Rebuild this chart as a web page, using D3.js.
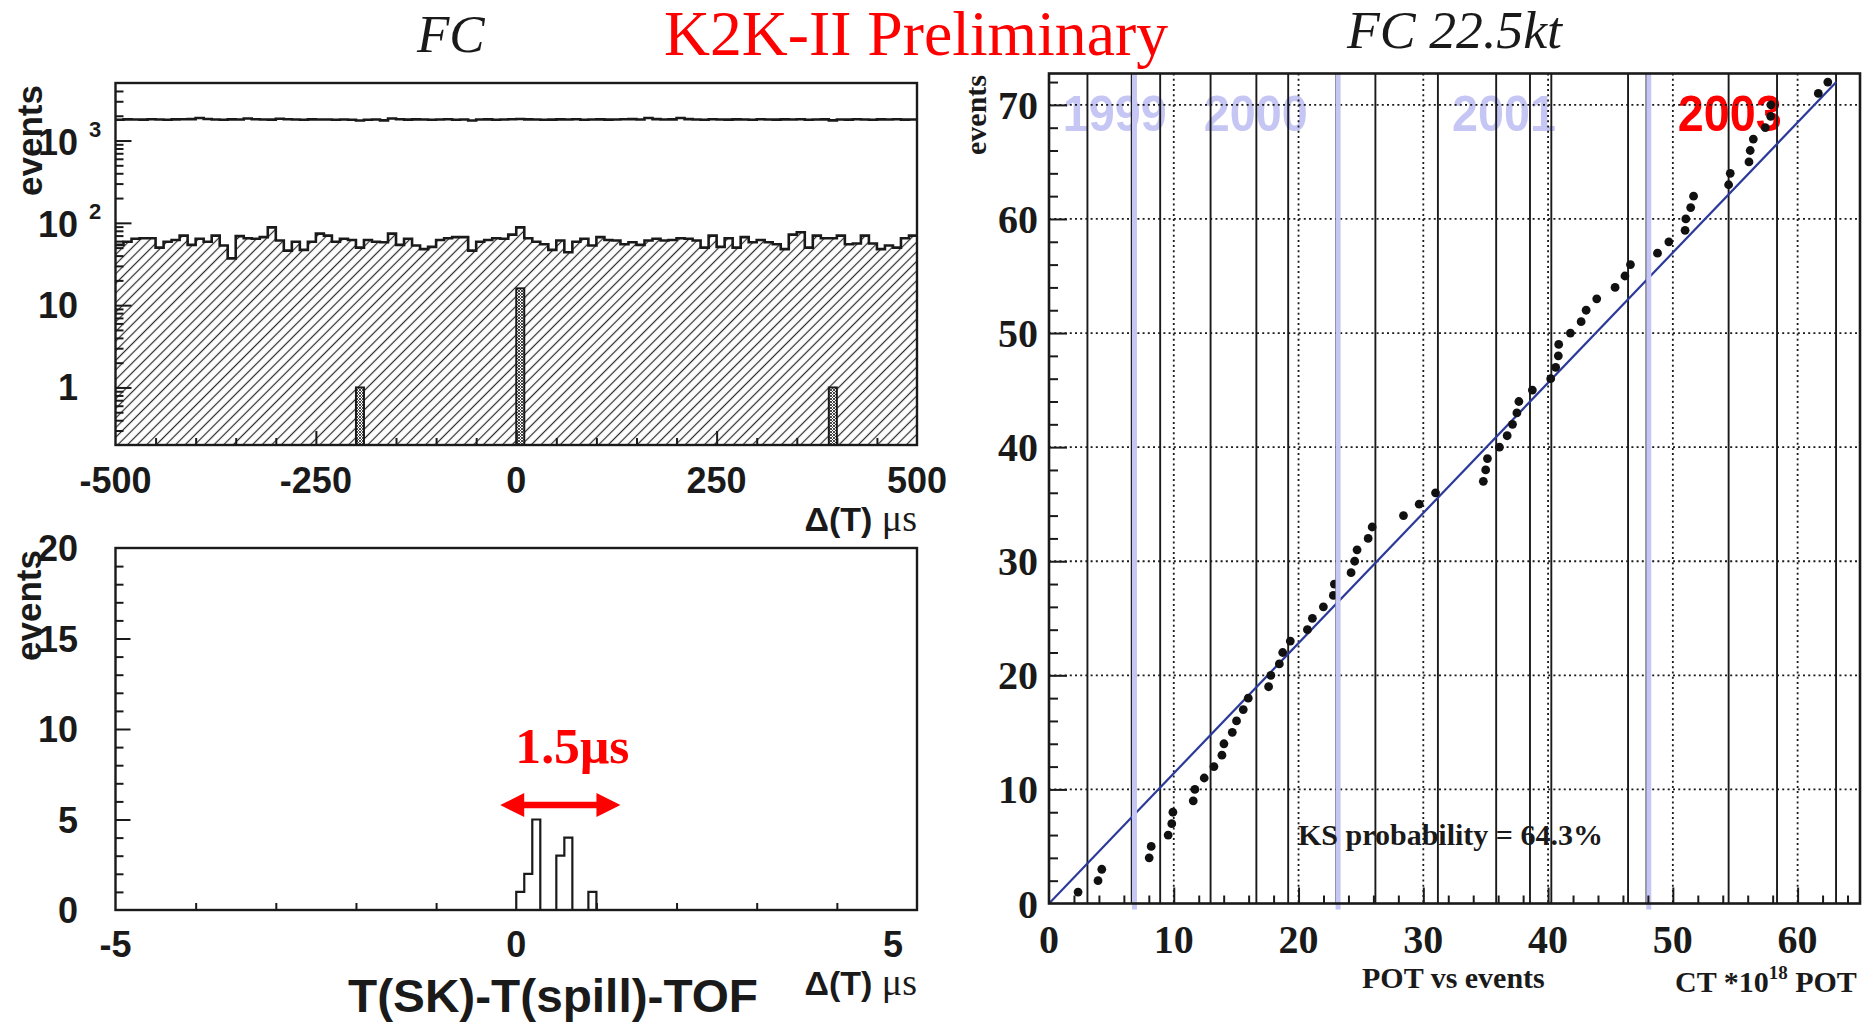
<!DOCTYPE html>
<html>
<head>
<meta charset="utf-8">
<script src="https://cdn.jsdelivr.net/npm/d3@7"></script>
<style>
  html, body { margin: 0; padding: 0; background: #fff; }
  svg { display: block; }
</style>
</head>
<body>
<svg id="fig" width="1869" height="1023"></svg>
<script>
// ---------------- data ----------------
// Wide timing window: 100 bins of 10 us from -500 to +500 us
const totalCounts = [
  1790,1805,1800,1795,1810,1800,1790,1805,1812,1820,
  1880,1830,1800,1790,1805,1800,1850,1815,1800,1795,
  1840,1810,1800,1790,1805,1798,1802,1790,1800,1785,
  1750,1790,1800,1760,1850,1810,1795,1805,1800,1792,
  1800,1810,1790,1800,1755,1800,1805,1790,1800,1810,
  1830,1805,1800,1790,1795,1805,1800,1810,1790,1800,
  1805,1795,1800,1810,1820,1800,1880,1820,1800,1805,
  1880,1820,1800,1790,1810,1800,1795,1805,1800,1790,
  1810,1800,1795,1805,1800,1810,1790,1800,1805,1760,
  1800,1795,1810,1800,1790,1805,1800,1810,1795,1800
];
const hatchedCounts = [
  54,59,64,65,65,50,59,62,70,54,
  64,59,70,53,37,69,65,64,67,88,
  61,46,59,47,59,74,70,59,64,62,
  50,62,59,58,74,54,64,53,48,51,
  62,65,67,67,46,59,62,65,64,72,
  88,65,59,55,47,61,44,59,64,53,
  67,62,61,55,58,54,61,64,61,62,
  65,64,61,50,70,51,65,50,67,58,
  62,58,55,48,72,77,50,70,65,65,
  70,55,56,70,56,48,53,50,65,70
];
// FC events in the wide window (lower bin edge, count)
const fcBinStarts = [-200, 0, 390];
const fcCounts = [1, 16, 1];

// Narrow window: 0.1 us bins with entries
const fineBinStarts = [0.0, 0.1, 0.2, 0.3, 0.4, 0.5, 0.6, 0.7, 0.8, 0.9];
const fineCounts    = [1,   2,   5,   0,   0,   3,   4,   0,   0,   1];
const spreadStart = -0.2;
const spreadWidth = 1.5;    // us
const spreadLevel = 5.8;    // events

// Accumulated POT (10^18) at each FC event, events 1..72
const eventPOT = [
  2.33, 3.93, 4.23, 8.03, 8.19, 9.55, 9.84, 9.93, 11.56, 11.69,
  12.44, 13.22, 13.86, 14.02, 14.69, 15.03, 15.57, 15.97, 17.60, 17.78,
  18.46, 18.73, 19.34, 20.71, 21.11, 21.99, 22.79, 22.87, 24.21, 24.50,
  24.69, 25.58, 25.90, 28.41, 29.67, 30.98, 34.81, 35.00, 35.14, 36.10,
  36.72, 37.15, 37.50, 37.66, 38.74, 40.21, 40.61, 40.82, 40.85, 41.79,
  42.65, 43.05, 43.90, 45.37, 46.16, 46.60, 48.77, 49.68, 50.98, 51.04,
  51.43, 51.66, 54.47, 54.60, 56.10, 56.20, 56.45, 57.41, 57.84, 57.86,
  61.66, 62.42
];
const runBoundaries = [3.08, 6.63, 8.91, 12.95, 16.62, 19.17, 23.03, 26.16, 31.17,
                       35.84, 38.55, 40.26, 46.41, 47.89, 54.47, 58.35, 63.08];
const yearBoundaries = [6.85, 23.17, 48.07];
const yearNames = ["1999", "2000", "2001", "2003"];
const totalPOT = 63.1;
const totalEvents = 72;
const ksProbability = 64.3;

// tick label values
const wideXLabels = [-500, -250, 0, 250, 500];
const wideYLabels = [1, 10, 100, 1000];
const narrowXLabels = [-5, 0, 5];
const narrowYLabels = [0, 5, 10, 15, 20];
const potXLabels = [0, 10, 20, 30, 40, 50, 60];
const potYLabels = [0, 10, 20, 30, 40, 50, 60, 70];

// ---------------- styling ----------------
const SANS = "'Liberation Sans', Arial, Helvetica, sans-serif";
const SERIF = "'Liberation Serif', 'Times New Roman', Times, serif";
const INK = "#1a1a1a";
const RED = "#ff0000";
const LAVENDER = "#c6c6f4";

const svg = d3.select("#fig");
const defs = svg.append("defs");

// single diagonal hatch
const hatch = defs.append("pattern").attr("id", "diag")
  .attr("patternUnits", "userSpaceOnUse").attr("width", 6.8).attr("height", 10)
  .attr("patternTransform", "rotate(45)");
hatch.append("line").attr("x1", 3.4).attr("y1", 0).attr("x2", 3.4).attr("y2", 10)
  .attr("stroke", "#2a2a2a").attr("stroke-width", 1.2);

// fine cross hatch for the FC bars
const cross = defs.append("pattern").attr("id", "cross")
  .attr("patternUnits", "userSpaceOnUse").attr("width", 3).attr("height", 3);
cross.append("rect").attr("width", 3).attr("height", 3).attr("fill", "#fff");
cross.append("path").attr("d", "M0,0L3,3M3,0L0,3")
  .attr("stroke", "#333").attr("stroke-width", 0.9);

function clip(id, x0, y0, x1, y1) {
  defs.append("clipPath").attr("id", id).append("rect")
    .attr("x", x0).attr("y", y0).attr("width", x1 - x0).attr("height", y1 - y0);
}

function tickMarks(parent, axisFn, scale, values, size, transform, width) {
  const g = parent.append("g").attr("transform", transform)
    .call(axisFn(scale).tickValues(values).tickSize(size).tickFormat(""));
  g.select(".domain").remove();
  g.selectAll(".tick line").attr("stroke", INK).attr("stroke-width", width || 2);
  g.selectAll(".tick text").remove();
  return g;
}

function text(parent, str, x, y, opts) {
  const t = parent.append("text").attr("x", x).attr("y", y).text(str)
    .attr("font-family", opts.family || SANS)
    .attr("font-size", opts.size)
    .attr("font-weight", opts.weight || "normal")
    .attr("font-style", opts.style || "normal")
    .attr("fill", opts.fill || INK)
    .attr("text-anchor", opts.anchor || "start");
  if (opts.length) t.attr("textLength", opts.length).attr("lengthAdjust", "spacingAndGlyphs");
  return t;
}

// ---------------- titles ----------------
text(svg, "FC", 417, 52, { family: SERIF, size: 53, style: "italic" });
text(svg, "K2K-II Preliminary", 664, 55, { family: SERIF, size: 63, fill: RED, length: 504 });
text(svg, "FC 22.5kt", 1347, 48, { family: SERIF, size: 53, style: "italic", length: 215 });

// ================= wide window (log) =================
const A = { x0: 115.5, x1: 917, y0: 83, y1: 445 };
const xA = d3.scaleLinear().domain([-500, 500]).range([A.x0, A.x1]);
const yA = d3.scaleLog().domain([0.2, 5000]).range([A.y1, A.y0]);
clip("clipA", A.x0, A.y0, A.x1, A.y1);
const gA = svg.append("g");
const plotA = gA.append("g").attr("clip-path", "url(#clipA)");

const edgesA = d3.range(0, 101).map(i => -500 + 10 * i);
const stepPts = counts => counts.map((c, i) => [edgesA[i], c]).concat([[500, counts[counts.length - 1]]]);

const areaA = d3.area().curve(d3.curveStepAfter)
  .x(d => xA(d[0])).y0(A.y1).y1(d => yA(d[1]));
const lineA = d3.line().curve(d3.curveStepAfter)
  .x(d => xA(d[0])).y(d => yA(d[1]));

plotA.append("path").datum(stepPts(hatchedCounts)).attr("d", areaA).attr("fill", "url(#diag)");
plotA.append("path").datum(stepPts(hatchedCounts)).attr("d", lineA)
  .attr("fill", "none").attr("stroke", INK).attr("stroke-width", 2.6);
plotA.append("path").datum(stepPts(totalCounts)).attr("d", lineA)
  .attr("fill", "none").attr("stroke", INK).attr("stroke-width", 2.6);

plotA.selectAll("rect.fc").data(fcBinStarts.map((s, i) => ({ s, n: fcCounts[i] })))
  .join("rect").attr("class", "fc")
  .attr("x", d => xA(d.s)).attr("width", d => xA(d.s + 10) - xA(d.s))
  .attr("y", d => yA(d.n)).attr("height", d => A.y1 - yA(d.n))
  .attr("fill", "url(#cross)").attr("stroke", INK).attr("stroke-width", 2);

// ticks
const minorLog = [];
[0.1, 1, 10, 100, 1000].forEach(dec => {
  for (let k = 2; k <= 9; k++) { const v = k * dec; if (v > 0.2 && v < 5000) minorLog.push(v); }
});
tickMarks(gA, d3.axisLeft, yA, wideYLabels, -16, `translate(${A.x0},0)`);
tickMarks(gA, d3.axisLeft, yA, minorLog, -8, `translate(${A.x0},0)`);
tickMarks(gA, d3.axisBottom, xA, [-250, 0, 250], -14, `translate(0,${A.y1})`);
tickMarks(gA, d3.axisBottom, xA, d3.range(-450, 500, 50).filter(v => v % 250 !== 0), -7, `translate(0,${A.y1})`);

gA.append("rect").attr("x", A.x0).attr("y", A.y0).attr("width", A.x1 - A.x0).attr("height", A.y1 - A.y0)
  .attr("fill", "none").attr("stroke", INK).attr("stroke-width", 2.4);

// labels
wideXLabels.forEach(v => text(gA, String(v), xA(v), 493, { size: 36, weight: "bold", anchor: "middle" }));
wideYLabels.forEach(v => {
  const e = Math.round(Math.log10(v));
  const yy = yA(v);
  if (e <= 1) {
    text(gA, String(v), 78, yy + 13, { size: 36, weight: "bold", anchor: "end" });
  } else {
    text(gA, "10", 78, yy + 14, { size: 36, weight: "bold", anchor: "end" });
    text(gA, String(e), 89, yy - 4, { size: 22, weight: "bold" });
  }
});
text(gA, "events", 0, 0, { size: 35, weight: "bold", anchor: "end" })
  .attr("transform", "translate(42,85) rotate(-90)");
const dtA = gA.append("text").attr("x", 917).attr("y", 531).attr("text-anchor", "end").attr("fill", INK);
dtA.append("tspan").text("Δ(T) ").attr("font-family", SANS).attr("font-weight", "bold").attr("font-size", 34);
dtA.append("tspan").text("μs").attr("font-family", SERIF).attr("font-size", 38);

// ================= narrow window =================
const B = { x0: 115.5, x1: 917, y0: 548, y1: 910 };
const xB = d3.scaleLinear().domain([-5, 5]).range([B.x0, B.x1]);
const yB = d3.scaleLinear().domain([0, 20]).range([B.y1, B.y0]);
clip("clipB", B.x0, B.y0, B.x1, B.y1);
const gB = svg.append("g");

const fineCountsAll = d3.range(100).map(i => {
  const lo = -5 + i * 0.1;
  const j = fineBinStarts.findIndex(s => Math.abs(s - lo) < 1e-6);
  return j >= 0 ? fineCounts[j] : 0;
});
const fineStep = fineCountsAll.map((c, i) => [-5 + i * 0.1, c]).concat([[5, 0]]);
gB.append("g").attr("clip-path", "url(#clipB)").append("path").datum(fineStep)
  .attr("d", d3.line().curve(d3.curveStepAfter).x(d => xB(d[0])).y(d => yB(d[1])))
  .attr("fill", "none").attr("stroke", INK).attr("stroke-width", 2.2);

tickMarks(gB, d3.axisLeft, yB, [5, 10, 15], -15, `translate(${B.x0},0)`);
tickMarks(gB, d3.axisLeft, yB, d3.range(1, 20).filter(v => v % 5 !== 0), -8, `translate(${B.x0},0)`);
tickMarks(gB, d3.axisBottom, xB, d3.range(-4, 5).filter(v => v !== 0), -7, `translate(0,${B.y1})`);

gB.append("rect").attr("x", B.x0).attr("y", B.y0).attr("width", B.x1 - B.x0).attr("height", B.y1 - B.y0)
  .attr("fill", "none").attr("stroke", INK).attr("stroke-width", 2.4);

// the last label is pulled inside the frame edge
narrowXLabels.forEach((v, i) => {
  const last = i === narrowXLabels.length - 1;
  text(gB, String(v), last ? xB(v) - 24 : xB(v), 957, { size: 36, weight: "bold", anchor: "middle" });
});
narrowYLabels.forEach(v => text(gB, String(v), 78, yB(v) + 13, { size: 36, weight: "bold", anchor: "end" }));
text(gB, "events", 0, 0, { size: 35, weight: "bold", anchor: "end" })
  .attr("transform", "translate(41,550) rotate(-90)");
const dtB = gB.append("text").attr("x", 917).attr("y", 995).attr("text-anchor", "end").attr("fill", INK);
dtB.append("tspan").text("Δ(T) ").attr("font-family", SANS).attr("font-weight", "bold").attr("font-size", 34);
dtB.append("tspan").text("μs").attr("font-family", SERIF).attr("font-size", 38);
text(gB, "T(SK)-T(spill)-TOF", 348, 1012, { size: 47, weight: "bold", length: 410 });

// spread arrow and its label
const ax0 = xB(spreadStart), ax1 = xB(spreadStart + spreadWidth), ay = yB(spreadLevel);
const head = 24, half = 12, shaft = 3.2;
gB.append("path").attr("fill", RED).attr("d",
  `M${ax0},${ay} L${ax0 + head},${ay - half} L${ax0 + head},${ay - shaft} L${ax1 - head},${ay - shaft}` +
  ` L${ax1 - head},${ay - half} L${ax1},${ay} L${ax1 - head},${ay + half} L${ax1 - head},${ay + shaft}` +
  ` L${ax0 + head},${ay + shaft} L${ax0 + head},${ay + half} Z`);
text(gB, `${spreadWidth}μs`, xB(spreadStart + spreadWidth / 2) + 12, 763,
  { family: SERIF, size: 50, weight: "bold", fill: RED, anchor: "middle", length: 114 });

// ================= POT vs events =================
const C = { x0: 1049, x1: 1860, y0: 73.5, y1: 903.5 };
const xC = d3.scaleLinear().domain([0, 65]).range([C.x0, C.x1]);
const yC = d3.scaleLinear().domain([0, 72.75]).range([C.y1, C.y0]);
clip("clipC", C.x0, C.y0, C.x1, C.y1);
const gC = svg.append("g");
const plotC = gC.append("g").attr("clip-path", "url(#clipC)");

// year tags
const yearTagPOT = [1.1, 12.4, 32.3, 50.4];
yearNames.forEach((s, i) => {
  text(plotC, s, xC(yearTagPOT[i]), yC(67.75), {
    size: 50, weight: "bold", fill: i === yearNames.length - 1 ? RED : LAVENDER, length: 104
  });
});

// dotted grid
plotC.selectAll("line.gx").data(d3.range(10, 70, 10)).join("line").attr("class", "gx")
  .attr("x1", d => xC(d)).attr("x2", d => xC(d)).attr("y1", C.y0).attr("y2", C.y1)
  .attr("stroke", INK).attr("stroke-width", 1.8).attr("stroke-dasharray", "2,3.2");
plotC.selectAll("line.gy").data(d3.range(10, 80, 10)).join("line").attr("class", "gy")
  .attr("x1", C.x0).attr("x2", C.x1).attr("y1", d => yC(d)).attr("y2", d => yC(d))
  .attr("stroke", INK).attr("stroke-width", 1.8).attr("stroke-dasharray", "2,3.2");

// run boundaries
plotC.selectAll("line.run").data(runBoundaries).join("line").attr("class", "run")
  .attr("x1", d => xC(d)).attr("x2", d => xC(d)).attr("y1", C.y0).attr("y2", C.y1)
  .attr("stroke", INK).attr("stroke-width", 1.9);
// year boundaries
gC.selectAll("line.year").data(yearBoundaries).join("line").attr("class", "year")
  .attr("x1", d => xC(d)).attr("x2", d => xC(d)).attr("y1", C.y0).attr("y2", C.y1 + 6)
  .attr("stroke", LAVENDER).attr("stroke-width", 5);

// ticks
tickMarks(gC, d3.axisLeft, yC, d3.range(10, 80, 10), -18, `translate(${C.x0},0)`);
tickMarks(gC, d3.axisLeft, yC, d3.range(2, 73, 2).filter(v => v % 10 !== 0), -9, `translate(${C.x0},0)`);
tickMarks(gC, d3.axisBottom, xC, d3.range(10, 70, 10), -16, `translate(0,${C.y1})`);
tickMarks(gC, d3.axisBottom, xC, d3.range(2, 65, 2).filter(v => v % 10 !== 0), -8, `translate(0,${C.y1})`);

gC.append("rect").attr("x", C.x0).attr("y", C.y0).attr("width", C.x1 - C.x0).attr("height", C.y1 - C.y0)
  .attr("fill", "none").attr("stroke", INK).attr("stroke-width", 2.6);

// expectation line and events
plotC.append("line")
  .attr("x1", xC(0)).attr("y1", yC(0)).attr("x2", xC(totalPOT)).attr("y2", yC(totalEvents))
  .attr("stroke", "#2b3a9a").attr("stroke-width", 2.2);
plotC.selectAll("circle").data(eventPOT).join("circle")
  .attr("cx", d => xC(d)).attr("cy", (d, i) => yC(i + 1)).attr("r", 4.4).attr("fill", "#111");

// labels
potXLabels.forEach(v => text(gC, String(v), xC(v), 953, { family: SERIF, size: 40, weight: "bold", anchor: "middle" }));
potYLabels.forEach(v => text(gC, String(v), 1038, yC(v) + 14, { family: SERIF, size: 40, weight: "bold", anchor: "end" }));
text(gC, "events", 0, 0, { family: SERIF, size: 30, weight: "bold", anchor: "end" })
  .attr("transform", "translate(986,75) rotate(-90)");
text(gC, "POT vs events", 1362, 988, { family: SERIF, size: 30, weight: "bold" });
const ct = gC.append("text").attr("x", 1675).attr("y", 992)
  .attr("font-family", SERIF).attr("font-weight", "bold").attr("fill", INK);
ct.append("tspan").text("CT *10").attr("font-size", 30);
ct.append("tspan").text("18").attr("font-size", 19).attr("dy", -13);
ct.append("tspan").text(" POT").attr("font-size", 30).attr("dy", 13);
text(gC, `KS probability = ${ksProbability}%`, 1298, 845, { family: SERIF, size: 30, weight: "bold" });
</script>
</body>
</html>
